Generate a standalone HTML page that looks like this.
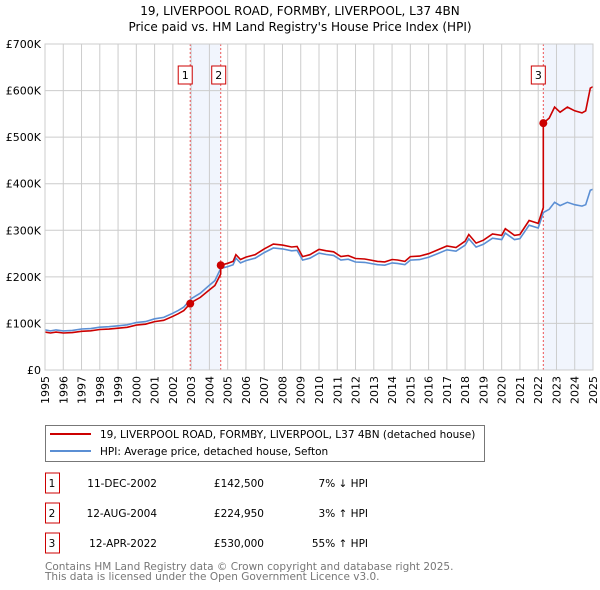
<!DOCTYPE html>
<html><head><meta charset="utf-8"><style>
body{margin:0;background:#fff;}
svg{display:block;font-family:"DejaVu Sans","Liberation Sans",sans-serif;}
</style></head><body>
<svg id="c" width="600" height="590" viewBox="0 0 600 590">
<text x="300" y="15" text-anchor="middle" font-size="12">19, LIVERPOOL ROAD, FORMBY, LIVERPOOL, L37 4BN</text>
<text x="300" y="31" text-anchor="middle" font-size="12">Price paid vs. HM Land Registry's House Price Index (HPI)</text>
<g id="plot"></g>
<g>
<rect x="45.5" y="425.5" width="439" height="36" fill="#fff" stroke="#777"/>
<line x1="50" y1="434" x2="91" y2="434" stroke="#cc0000" stroke-width="2"/>
<text x="100" y="438" font-size="10.5">19, LIVERPOOL ROAD, FORMBY, LIVERPOOL, L37 4BN (detached house)</text>
<line x1="50" y1="451" x2="91" y2="451" stroke="#5b8fd4" stroke-width="2"/>
<text x="100" y="455" font-size="10.5">HPI: Average price, detached house, Sefton</text>
</g>
<g id="table" font-size="10.5"></g>
<text x="45" y="570" font-size="10.5" fill="#777">Contains HM Land Registry data © Crown copyright and database right 2025.</text>
<text x="45" y="580" font-size="10.5" fill="#777">This data is licensed under the Open Government Licence v3.0.</text>
</svg>
<script>
const hpiDates=[1995,1995.3,1995.6,1996,1996.5,1997,1997.5,1998,1998.5,1999,1999.5,2000,2000.5,2001,2001.5,2002,2002.3,2002.6,2003,2003.5,2004,2004.3,2004.62,2005,2005.3,2005.45,2005.7,2006,2006.5,2007,2007.5,2008,2008.5,2008.8,2009.1,2009.5,2010,2010.4,2010.8,2011.2,2011.6,2012,2012.5,2012.8,2013.2,2013.6,2014,2014.3,2014.7,2015,2015.5,2016,2016.5,2017,2017.5,2018,2018.2,2018.6,2019,2019.5,2020,2020.2,2020.7,2021,2021.5,2022,2022.28,2022.6,2022.9,2023.2,2023.6,2024,2024.4,2024.6,2024.85,2025];
const hpiValues=[86,84,86,84,85,88,89,92,93,95,97,102,104,110,113,122,128,135,153,165,182,192,218,222,226,240,230,235,240,252,262,260,256,257,236,240,251,248,246,236,238,232,231,229,226,225,230,229,226,236,237,242,250,258,255,268,282,264,270,283,280,294,280,282,311,305,338,345,360,353,360,355,352,355,386,388];
const yTicks=[0,100,200,300,400,500,600,700];
const yTickLabels=["£0","£100K","£200K","£300K","£400K","£500K","£600K","£700K"];
const years=[1995,1996,1997,1998,1999,2000,2001,2002,2003,2004,2005,2006,2007,2008,2009,2010,2011,2012,2013,2014,2015,2016,2017,2018,2019,2020,2021,2022,2023,2024,2025];
const saleDates=[2002.95,2004.62,2022.28];
const salePrices=[142.5,224.95,530];
const saleLabels=["1","2","3"];
const saleDateText=["11-DEC-2002","12-AUG-2004","12-APR-2022"];
const salePriceText=["£142,500","£224,950","£530,000"];
const saleHpiText=["7% ↓ HPI","3% ↑ HPI","55% ↑ HPI"];

const NS="http://www.w3.org/2000/svg";
const X0=45,X1=593,Y0=370,Y1=44;
const xs=t=>X0+(t-1995)/30*(X1-X0);
const ys=v=>Y0-v/700*(Y0-Y1);
function mk(tag,attrs,parent){const e=document.createElementNS(NS,tag);for(const k in attrs)e.setAttribute(k,attrs[k]);parent.appendChild(e);return e;}
const plot=document.getElementById('plot');
function hpiAt(t){for(let i=1;i<hpiDates.length;i++){if(t<=hpiDates[i]){const f=(t-hpiDates[i-1])/(hpiDates[i]-hpiDates[i-1]);return hpiValues[i-1]+f*(hpiValues[i]-hpiValues[i-1]);}}return hpiValues[hpiValues.length-1];}
const shades=[[saleDates[0],saleDates[1]],[saleDates[2],2025]];
shades.forEach((s,i)=>{const r=mk('rect',{x:xs(s[0]),y:Y1,width:xs(s[1])-xs(s[0]),height:Y0-Y1,fill:'#eef3fc',opacity:0.8},plot);

});
years.forEach(y=>{const l=mk('line',{x1:xs(y),x2:xs(y),y1:Y1,y2:Y0,stroke:'#ccc','stroke-width':1},plot);


const t=mk('text',{x:0,y:0,'font-size':11,'text-anchor':'end',transform:`translate(${xs(y)+4},${Y0+6}) rotate(-90)`},plot);
t.textContent=y;

});
yTicks.forEach((v,i)=>{const l=mk('line',{x1:X0,x2:X1,y1:ys(v),y2:ys(v),stroke:'#ccc','stroke-width':1},plot);


const t=mk('text',{x:X0-4,y:ys(v)+4,'font-size':11,'text-anchor':'end'},plot);
t.textContent=yTickLabels[i];

});
saleDates.forEach((d,i)=>{const l=mk('line',{x1:xs(d),x2:xs(d),y1:Y1,y2:Y0,stroke:'#ee5555','stroke-width':1,'stroke-dasharray':'2,2'},plot);


const r=mk('rect',{x:xs(d)+(i==1?-9:-12),y:66,width:14,height:18,fill:'#fff',stroke:'#cc0000'},plot);


const t=mk('text',{x:xs(d)+(i==1?-2:-5),y:79,'font-size':11,'text-anchor':'middle'},plot);
t.textContent=saleLabels[i];

});
const hp=hpiDates.map((d,i)=>xs(d).toFixed(1)+','+ys(hpiValues[i]).toFixed(1)).join(' ');
const hl=mk('polyline',{points:hp,fill:'none',stroke:'#5b8fd4','stroke-width':1.6},plot);


const pts=[];
function seg(a,b,k){const base=salePrices[k]/hpiAt(saleDates[k]);pts.push([a,hpiAt(a)*base]);hpiDates.forEach(d=>{if(d>a&&d<b)pts.push([d,hpiAt(d)*base]);});pts.push([b,hpiAt(b)*base]);}
seg(1995,saleDates[0],0);seg(saleDates[0],saleDates[1],0);seg(saleDates[1],saleDates[2],1);seg(saleDates[2],2025,2);
const pl=mk('polyline',{points:pts.map(p=>xs(p[0]).toFixed(1)+','+ys(p[1]).toFixed(1)).join(' '),fill:'none',stroke:'#cc0000','stroke-width':1.6},plot);


saleDates.forEach((d,i)=>{const c=mk('circle',{cx:xs(d),cy:ys(salePrices[i]),r:4,fill:'#cc0000'},plot);

});
mk('rect',{x:X0,y:Y1,width:X1-X0,height:Y0-Y1,fill:'none',stroke:'#ccc'},plot);
const tb=document.getElementById('table');
saleLabels.forEach((s,i)=>{const y=483+i*30;
const r=mk('rect',{x:45.5,y:y-10,width:14,height:20,fill:'#fff',stroke:'#cc0000'},tb);


const cells=[[52,'middle',s],[157,'end',saleDateText[i]],[264,'end',salePriceText[i]],[368,'end',saleHpiText[i]]];
cells.forEach(c=>{const t=mk('text',{x:c[0],y:y+4,'text-anchor':c[1]},tb);
t.textContent=c[2];

});});
</script>
</body></html>
